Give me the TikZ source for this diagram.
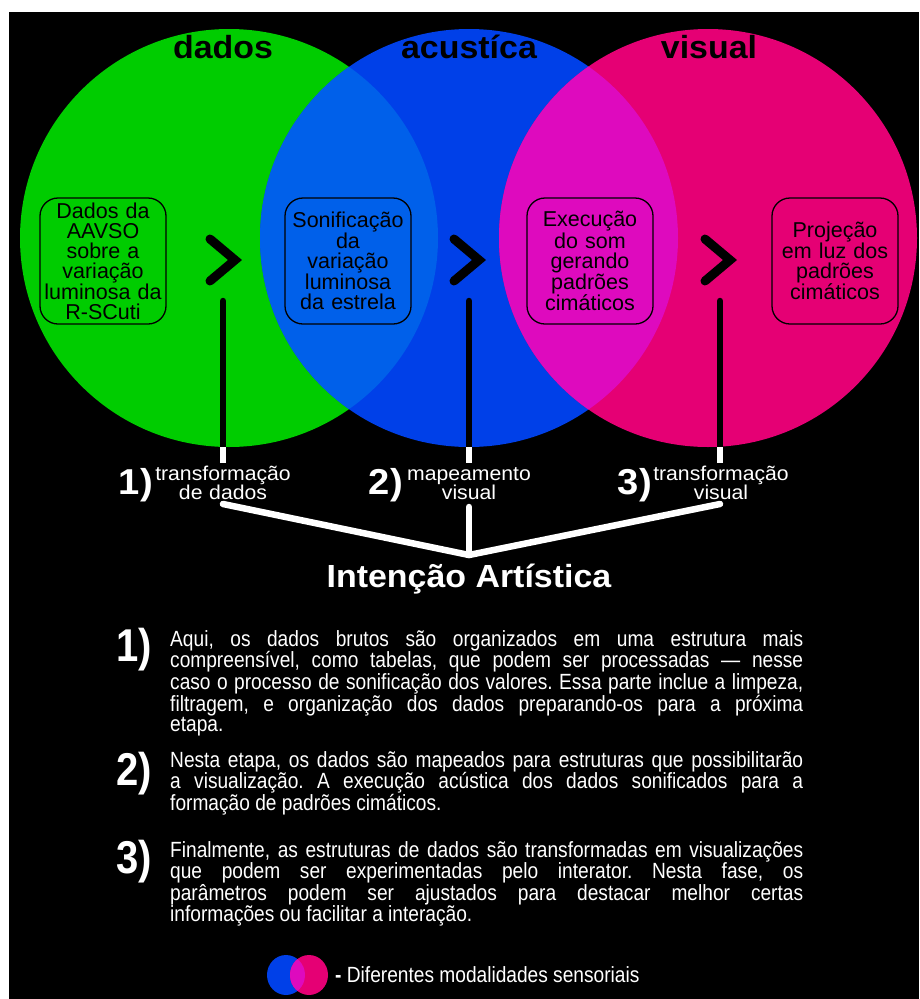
\documentclass[tikz,border=0pt]{standalone}
\usepackage{fontspec}
\setmainfont{Liberation Sans}
\newfontfamily\widefont[FakeStretch=1.06]{Liberation Sans}
\newfontfamily\narrowfont[FakeStretch=0.87]{Liberation Sans}
\pretolerance=10000
\tolerance=10000
\frenchspacing

\definecolor{dadosgreen}{RGB}{0,204,0}
\definecolor{acusticablue}{RGB}{0,64,232}
\definecolor{visualpink}{RGB}{229,0,116}
\definecolor{greenblue}{RGB}{0,96,234}
\definecolor{bluepink}{RGB}{222,10,190}

\begin{document}
\begin{tikzpicture}[x=1pt,y=-1pt,
    etapa/.style={draw,line width=1.3pt,rounded corners=18pt,minimum width=126pt,minimum height=126pt,
        inner sep=0pt,text width=124pt,align=center,font=\fontsize{21.5}{20}\selectfont},
    titulo/.style={anchor=base,font=\widefont\bfseries\fontsize{32}{32}\selectfont},
    seta/.style={line width=9pt,line cap=round},
    haste/.style={line width=6.5pt},
    chave/.style={white,line width=6.5pt,line cap=round,line join=round},
    num/.style={white,anchor=base east,inner sep=0pt,font=\widefont\bfseries\fontsize{36}{36}\selectfont},
    rotulo/.style={white,anchor=base,inner sep=0pt,text width=160pt,align=center,font=\widefont\fontsize{20}{15}\selectfont},
    numgrande/.style={white,anchor=base east,inner sep=0pt,font=\narrowfont\bfseries\fontsize{46}{46}\selectfont},
    texto/.style={white,anchor=base west,inner sep=0pt,text width=633pt,align=justify,
        font=\narrowfont\fontsize{22}{20.4}\selectfont}
]
    \fill[white] (0,0) rectangle (919,999);
    \fill[black] (9,12) rectangle (919,999);

    \coordinate (cdados) at (229,238);
    \coordinate (cacustica) at (469,238);
    \coordinate (cvisual) at (708,238);

    \fill[dadosgreen] (cdados) circle [radius=209pt];
    \fill[acusticablue] (cacustica) circle [radius=209pt];
    \fill[visualpink] (cvisual) circle [radius=209pt];
    \begin{scope}
        \clip (cdados) circle [radius=209pt];
        \fill[greenblue] (cacustica) circle [radius=209pt];
    \end{scope}
    \begin{scope}
        \clip (cacustica) circle [radius=209pt];
        \fill[bluepink] (cvisual) circle [radius=209pt];
    \end{scope}

    \node[titulo] (tdados) at (223,58) {dados};
    \node[titulo] (tacustica) at (469,58) {acustíca};
    \node[titulo] (tvisual) at (709,58) {visual};

    \node[etapa] (e1) at (103,261) {Dados da\\AAVSO\\sobre a\\variação\\luminosa da\\R-SCuti};
    \node[etapa] (e2) at (348,261) {Sonificação\\da\\variação\\luminosa\\da estrela};
    \node[etapa] (e3) at (590,261) {Execução\\do som\\gerando\\padrões\\cimáticos};
    \node[etapa] (e4) at (835,261) {Projeção\\em luz dos\\padrões\\cimáticos};

    \foreach \x in {223,467,718}{
        \draw[seta] (\x-13,239) -- (\x+12,260) -- (\x-13,281);
    }

    \foreach \x/\i in {223/1,469/2,720/3}{
        \coordinate (topo\i) at (\x,301);
        \coordinate (borda\i) at (\x,447);
        \coordinate (pe\i) at (\x,463);
        \draw[haste,line cap=round] (topo\i) -- (borda\i);
        \draw[haste,white] (borda\i) -- (pe\i);
    }

    \node[rotulo] (r1) at (223,480) {transformação\\de dados};
    \node[rotulo] (r2) at (469,480) {mapeamento\\visual};
    \node[rotulo] (r3) at (721,480) {transformação\\visual};
    \node[num] (n1) at (153,494) {1)};
    \node[num] (n2) at (403,494) {2)};
    \node[num] (n3) at (652,494) {3)};

    \coordinate (b1) at (223,504);
    \coordinate (b2) at (469,507);
    \coordinate (b3) at (720,504);
    \coordinate (fork) at (469,555);
    \draw[chave] (b1) -- (fork) -- (b3);
    \draw[chave] (b2) -- (fork);

    \node[white,anchor=base,font=\widefont\bfseries\fontsize{32}{32}\selectfont] (intencao) at (469,587) {Intenção Artística};

    \node[numgrande] (p1num) at (152,661) {1)};
    \node[texto] (p1) at (170,646) {Aqui, os dados brutos são organizados em uma estrutura mais\linebreak
        compreensível, como tabelas, que podem ser processadas — nesse\linebreak
        caso o processo de sonificação dos valores. Essa parte inclue a limpeza,\linebreak
        filtragem, e organização dos dados preparando-os para a próxima\linebreak
        etapa.};

    \node[numgrande] (p2num) at (152,785) {2)};
    \node[texto] (p2) at (170,767) {Nesta etapa, os dados são mapeados para estruturas que possibilitarão\linebreak
        a visualização. A execução acústica dos dados sonificados para a\linebreak
        formação de padrões cimáticos.};

    \node[numgrande] (p3num) at (152,873) {3)};
    \node[texto] (p3) at (170,857) {Finalmente, as estruturas de dados são transformadas em visualizações\linebreak
        que podem ser experimentadas pelo interator. Nesta fase, os\linebreak
        parâmetros podem ser ajustados para destacar melhor certas\linebreak
        informações ou facilitar a interação.};

    \coordinate (lazul) at (286,975);
    \coordinate (lrosa) at (309,975);
    \fill[acusticablue] (lazul) ellipse [x radius=19pt,y radius=20pt];
    \fill[visualpink] (lrosa) ellipse [x radius=19pt,y radius=20pt];
    \begin{scope}
        \clip (lazul) ellipse [x radius=19pt,y radius=20pt];
        \fill[bluepink] (lrosa) ellipse [x radius=19pt,y radius=20pt];
    \end{scope}
    \node[white,anchor=base west,inner sep=0pt,font=\narrowfont\fontsize{22}{22}\selectfont] (legenda) at (335,982)
        {{\bfseries -} Diferentes modalidades sensoriais};
\end{tikzpicture}
\end{document}
